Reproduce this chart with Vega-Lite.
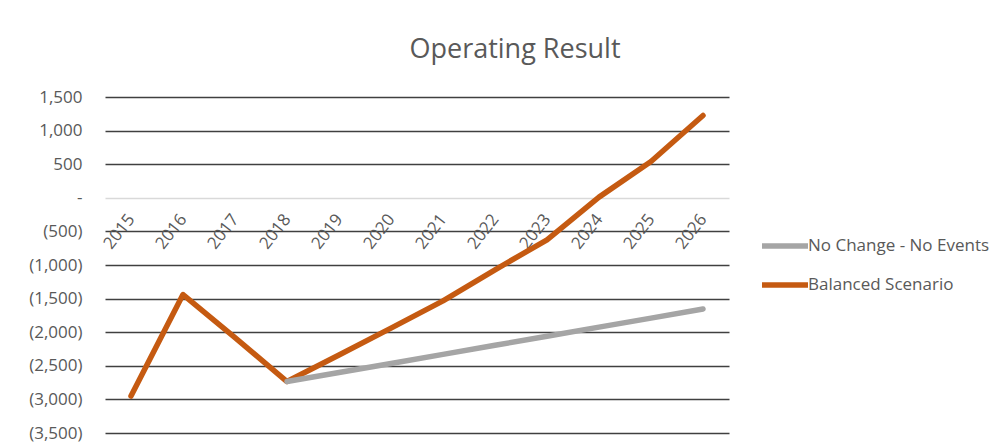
{
  "$schema": "https://vega.github.io/schema/vega-lite/v6.json",
  "autosize": {"type": "none"},
  "width": 624,
  "height": 336,
  "padding": {"left": 105, "top": 97, "right": 279, "bottom": 15},
  "background": "white",
  "title": {
    "text": "Operating Result",
    "font": "Open Sans",
    "fontSize": 27,
    "fontWeight": "normal",
    "color": "#595959",
    "anchor": "middle",
    "dx": 98,
    "offset": 24
  },
  "data": {
    "values": [
      {"year": "2015", "series": "Balanced Scenario", "value": -2950},
      {"year": "2016", "series": "Balanced Scenario", "value": -1440},
      {"year": "2017", "series": "Balanced Scenario", "value": -2080},
      {"year": "2018", "series": "Balanced Scenario", "value": -2734},
      {"year": "2019", "series": "Balanced Scenario", "value": -2340},
      {"year": "2020", "series": "Balanced Scenario", "value": -1940},
      {"year": "2021", "series": "Balanced Scenario", "value": -1533},
      {"year": "2022", "series": "Balanced Scenario", "value": -1071},
      {"year": "2023", "series": "Balanced Scenario", "value": -625},
      {"year": "2024", "series": "Balanced Scenario", "value": 10},
      {"year": "2025", "series": "Balanced Scenario", "value": 540},
      {"year": "2026", "series": "Balanced Scenario", "value": 1225},
      {"year": "2018", "series": "No Change - No Events", "value": -2734},
      {"year": "2019", "series": "No Change - No Events", "value": -2600},
      {"year": "2020", "series": "No Change - No Events", "value": -2465},
      {"year": "2021", "series": "No Change - No Events", "value": -2330},
      {"year": "2022", "series": "No Change - No Events", "value": -2195},
      {"year": "2023", "series": "No Change - No Events", "value": -2060},
      {"year": "2024", "series": "No Change - No Events", "value": -1925},
      {"year": "2025", "series": "No Change - No Events", "value": -1790},
      {"year": "2026", "series": "No Change - No Events", "value": -1656}
    ]
  },
  "mark": {"type": "line", "strokeWidth": 5.5, "strokeCap": "round", "strokeJoin": "round"},
  "encoding": {
    "x": {
      "field": "year",
      "type": "ordinal",
      "sort": null,
      "scale": {"type": "point", "padding": 0.5},
      "axis": {
        "title": null,
        "domain": false,
        "ticks": false,
        "grid": false,
        "labelAngle": -52,
        "labelAlign": "right",
        "labelBaseline": "middle",
        "labelPadding": 18,
        "offset": -235,
        "labelFont": "Open Sans",
        "labelFontSize": 17,
        "labelColor": "#595959"
      }
    },
    "y": {
      "field": "value",
      "type": "quantitative",
      "scale": {"domain": [-3500, 1500], "nice": false, "zero": false},
      "axis": {
        "title": null,
        "domain": false,
        "ticks": false,
        "values": [-3500, -3000, -2500, -2000, -1500, -1000, -500, 0, 500, 1000, 1500],
        "labelExpr": "datum.value == 0 ? '-' : (datum.value < 0 ? '(' + format(-datum.value, ',') + ')' : format(datum.value, ','))",
        "labelPadding": 23,
        "labelFont": "Open Sans",
        "labelFontSize": 17,
        "labelColor": "#595959",
        "grid": true,
        "gridColor": {"condition": {"test": "datum.value === 0", "value": "#d9d9d9"}, "value": "#404040"},
        "gridWidth": 1.5
      }
    },
    "color": {
      "field": "series",
      "type": "nominal",
      "scale": {
        "domain": ["No Change - No Events", "Balanced Scenario"],
        "range": ["#a5a5a5", "#c55a11"]
      },
      "legend": {
        "title": null,
        "orient": "none",
        "legendX": 654,
        "legendY": 123,
        "symbolType": "stroke",
        "symbolSize": 2116,
        "symbolStrokeWidth": 5.5,
        "labelOffset": -3,
        "labelLimit": 400,
        "labelFont": "Open Sans",
        "labelFontSize": 17,
        "labelColor": "#595959",
        "rowPadding": 2
      }
    }
  },
  "config": {"view": {"stroke": null}}
}
